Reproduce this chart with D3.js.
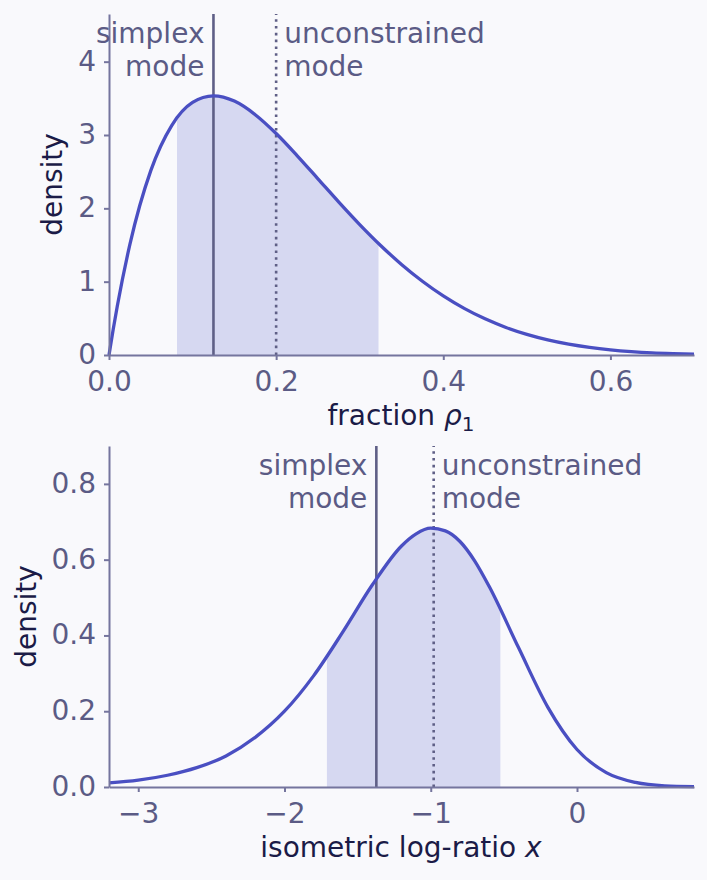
<!DOCTYPE html>
<html>
<head>
<meta charset="utf-8">
<script src="https://cdn.jsdelivr.net/npm/d3@7"></script>
<style>
    html, body { margin: 0; padding: 0; background: #f9f9fc; }
    svg { display: block; font-family: 'DejaVu Sans', sans-serif; }
</style>
</head>
<body>
<div id="chart"></div>
<script>
// top panel: density over the simplex fraction rho_1
const rhoGrid = [0, 0.005, 0.01, 0.025, 0.05, 0.075, 0.1, 0.125, 0.15, 0.175, 0.2, 0.225, 0.25, 0.275,
    0.3, 0.325, 0.35, 0.375, 0.4, 0.425, 0.45, 0.475, 0.5, 0.525, 0.55, 0.575, 0.6, 0.625, 0.65, 0.675, 0.7];
const rhoDensity = [0, 0.348, 0.671, 1.508, 2.514, 3.129, 3.444, 3.534, 3.462, 3.277, 3.020, 2.720, 2.403, 2.085,
    1.779, 1.494, 1.235, 1.006, 0.806, 0.636, 0.493, 0.376, 0.281, 0.206, 0.148, 0.104, 0.071, 0.047, 0.030, 0.019, 0.011];
const rhoTicks = [0, 0.2, 0.4, 0.6];
const rhoDensityTicks = [0, 1, 2, 3, 4];

// bottom panel: density over the isometric log-ratio x
const ilrGrid = [-3.2, -3.0, -2.8, -2.6, -2.4, -2.2, -2.0, -1.8, -1.6, -1.4, -1.2, -1.1, -1.0, -0.9, -0.8,
    -0.7, -0.6, -0.4, -0.2, 0, 0.2, 0.4, 0.6, 0.8];
const ilrDensity = [0.011, 0.018, 0.031, 0.051, 0.082, 0.131, 0.200, 0.294, 0.410, 0.533, 0.636, 0.668, 0.683, 0.676, 0.648,
    0.597, 0.529, 0.368, 0.211, 0.099, 0.038, 0.012, 0.003, 0.001];
const ilrTicks = [-3, -2, -1, 0];
const ilrDensityTicks = [0, 0.2, 0.4, 0.6, 0.8];

// shaded interval and the two modes, [top, bottom]
const intervalRho = [0.0814, 0.3225];
const intervalIlr = [-1.71, -0.524];
const simplexMode = [0.125, -1.372];
const unconstrainedMode = [0.2, -0.980];

const WIDTH = 707;
const HEIGHT = 880;
const FONT_SIZE = 28;
const BG_COLOR = '#f9f9fc';
const CURVE_COLOR = '#4a4fc2';
const FILL_COLOR = '#d6d8f1';
const SPINE_COLOR = '#75759e';
const MODE_COLOR = '#5f5f86';
const TICK_TEXT_COLOR = '#5b5b85';
const LABEL_COLOR = '#1b1b47';

const svg = d3.select('#chart').append('svg')
    .attr('width', WIDTH)
    .attr('height', HEIGHT);

svg.append('rect').attr('width', WIDTH).attr('height', HEIGHT).attr('fill', BG_COLOR);

function drawPanel(opt) {
    const g = svg.append('g');
    const x = d3.scaleLinear().domain(opt.xDomain).range([109, 694]);
    const y = d3.scaleLinear().domain(opt.yDomain).range([opt.bottom, opt.top]);
    const pts = opt.grid.map((v, i) => ({ x: v, y: opt.values[i] }));

    // shaded interval, clipped out of the full area
    g.append('clipPath').attr('id', opt.id + '-clip')
        .append('rect')
        .attr('x', x(opt.interval[0]))
        .attr('width', x(opt.interval[1]) - x(opt.interval[0]))
        .attr('y', opt.top)
        .attr('height', opt.bottom - opt.top);

    const area = d3.area().x(d => x(d.x)).y0(y(0)).y1(d => y(d.y)).curve(d3.curveMonotoneX);
    g.append('path')
        .attr('d', area(pts))
        .attr('fill', FILL_COLOR)
        .attr('clip-path', `url(#${opt.id}-clip)`);

    // mode lines
    g.append('line')
        .attr('x1', x(opt.simplexMode)).attr('x2', x(opt.simplexMode))
        .attr('y1', y(0)).attr('y2', opt.top)
        .attr('stroke', MODE_COLOR).attr('stroke-width', 2.6);
    g.append('line')
        .attr('x1', x(opt.unconstrainedMode)).attr('x2', x(opt.unconstrainedMode))
        .attr('y1', y(0)).attr('y2', opt.top)
        .attr('stroke', MODE_COLOR).attr('stroke-width', 2.6)
        .attr('stroke-dasharray', '2.6 4.2');

    const line = d3.line().x(d => x(d.x)).y(d => y(d.y)).curve(d3.curveMonotoneX);
    g.append('path')
        .attr('d', line(pts))
        .attr('fill', 'none')
        .attr('stroke', CURVE_COLOR)
        .attr('stroke-width', 3.3)
        .attr('stroke-linejoin', 'round');

    // axes
    const xAxis = g.append('g')
        .attr('transform', `translate(0,${opt.bottom})`)
        .call(d3.axisBottom(x).tickValues(opt.xTicks).tickFormat(opt.xFormat).tickSize(5).tickSizeOuter(0).tickPadding(11));
    const yAxis = g.append('g')
        .attr('transform', 'translate(109,0)')
        .call(d3.axisLeft(y).tickValues(opt.yTicks).tickFormat(opt.yFormat).tickSize(5).tickSizeOuter(0).tickPadding(8));

    [xAxis, yAxis].forEach(a => {
        a.select('.domain').attr('stroke', SPINE_COLOR).attr('stroke-width', 2);
        a.selectAll('.tick line').attr('stroke', SPINE_COLOR).attr('stroke-width', 2);
        a.selectAll('.tick text')
            .attr('fill', TICK_TEXT_COLOR)
            .style('font-size', FONT_SIZE + 'px')
            .style('font-family', "'DejaVu Sans', sans-serif");
    });
    // the y tick text sits a touch higher so the 0 labels do not collide
    yAxis.selectAll('.tick text').attr('dy', '0.3em');

    // mode annotations
    const sm = g.append('text')
        .attr('text-anchor', 'end')
        .attr('fill', TICK_TEXT_COLOR)
        .style('font-size', FONT_SIZE + 'px');
    sm.append('tspan').attr('x', x(opt.simplexMode) - 9).attr('y', opt.top + 29).text('simplex');
    sm.append('tspan').attr('x', x(opt.simplexMode) - 9).attr('y', opt.top + 62).text('mode');

    const um = g.append('text')
        .attr('text-anchor', 'start')
        .attr('fill', TICK_TEXT_COLOR)
        .style('font-size', FONT_SIZE + 'px');
    um.append('tspan').attr('x', x(opt.unconstrainedMode) + 8).attr('y', opt.top + 29).text('unconstrained');
    um.append('tspan').attr('x', x(opt.unconstrainedMode) + 8).attr('y', opt.top + 62).text('mode');

    // axis labels
    g.append('text')
        .attr('transform', `translate(${opt.yLabelX},${(opt.top + opt.bottom) / 2}) rotate(-90)`)
        .attr('text-anchor', 'middle')
        .attr('fill', LABEL_COLOR)
        .style('font-size', FONT_SIZE + 'px')
        .text('density');

    const xl = g.append('text')
        .attr('x', 401)
        .attr('y', opt.bottom + 70)
        .attr('text-anchor', 'middle')
        .attr('fill', LABEL_COLOR)
        .style('font-size', FONT_SIZE + 'px');
    opt.xLabel(xl);
}

drawPanel({
    id: 'top',
    top: 14,
    bottom: 355,
    grid: rhoGrid,
    values: rhoDensity,
    xDomain: [0, 0.7],
    yDomain: [0, 4.65],
    xTicks: rhoTicks,
    yTicks: rhoDensityTicks,
    xFormat: d3.format('.1f'),
    yFormat: d3.format('d'),
    interval: intervalRho,
    simplexMode: simplexMode[0],
    unconstrainedMode: unconstrainedMode[0],
    yLabelX: 62,
    xLabel: t => {
        t.append('tspan').text('fraction ');
        t.append('tspan').style('font-style', 'italic').text('ρ');
        t.append('tspan').attr('dy', 6).style('font-size', '20px').text('1');
    }
});

drawPanel({
    id: 'bottom',
    top: 446,
    bottom: 787,
    grid: ilrGrid,
    values: ilrDensity,
    xDomain: [-3.2, 0.8],
    yDomain: [0, 0.9],
    xTicks: ilrTicks,
    yTicks: ilrDensityTicks,
    xFormat: d3.format('d'),
    yFormat: d3.format('.1f'),
    interval: intervalIlr,
    simplexMode: simplexMode[1],
    unconstrainedMode: unconstrainedMode[1],
    yLabelX: 36,
    xLabel: t => {
        t.append('tspan').text('isometric log-ratio ');
        t.append('tspan').style('font-style', 'italic').text('x');
    }
});
</script>
</body>
</html>
